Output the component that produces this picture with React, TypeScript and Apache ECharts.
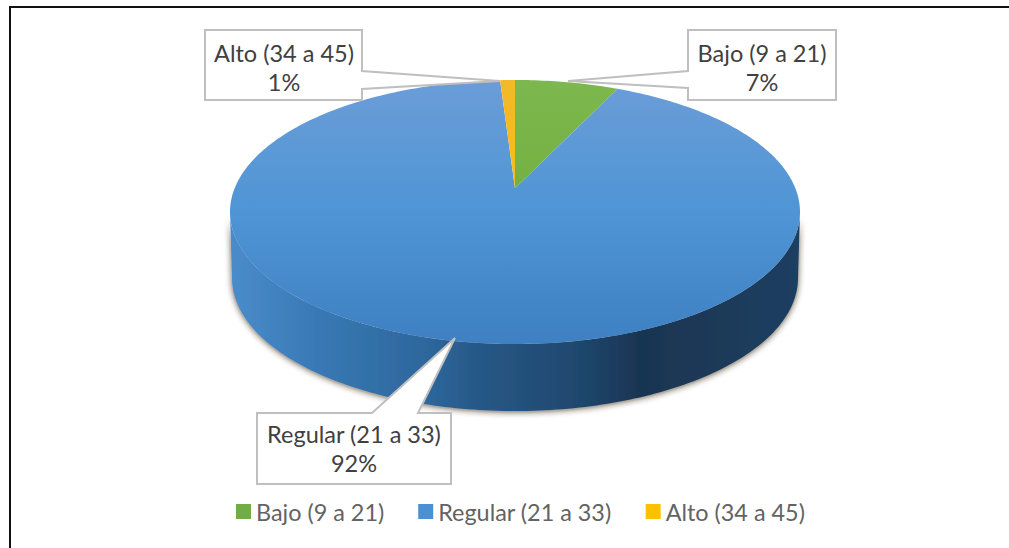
import React, { useEffect, useRef } from "react";
import * as echarts from "echarts";

const categories = ["Bajo (9 a 21)", "Regular (21 a 33)", "Alto (34 a 45)"];
const values = [7, 92, 1];
const sliceColors = ["#70AD47", "#4A90D4", "#FFC000"];

// pie geometry
const CX = 515, CY = 212, RX = 285, RY = 132;
const APEX = 0.18; // projective shift of the pie centre on the ellipse
const BOTTOM_CY = 278, BOTTOM_RY = 133, BOTTOM_RX = 283;
const total = values.reduce((a, b) => a + b, 0);

const pt = (deg: number) => {
  const th = (deg * Math.PI) / 180;
  const s = Math.sin(th), c = Math.cos(th);
  const den = 1 + APEX * c;
  return { u: (s * Math.sqrt(1 - APEX * APEX)) / den, v: (c + APEX) / den };
};
const topXY = (deg: number) => {
  const p = pt(deg);
  return [CX + RX * p.u, CY - RY * p.v];
};
const bottomXY = (deg: number) => {
  const p = pt(deg);
  return [CX + BOTTOM_RX * p.u, BOTTOM_CY - BOTTOM_RY * p.v];
};
const range = (from: number, to: number, f: (d: number) => number[]) => {
  const n = Math.max(2, Math.ceil((to - from) / 1));
  const out: number[][] = [];
  for (let i = 0; i <= n; i++) out.push(f(from + ((to - from) * i) / n));
  return out;
};

const sideStops = [
  { offset: 0, color: "#4A8CCB" },
  { offset: 0.16, color: "#3878B4" },
  { offset: 0.36, color: "#2C6599" },
  { offset: 0.42, color: "#285A8A" },
  { offset: 0.62, color: "#1F466C" },
  { offset: 0.72, color: "#193552" },
  { offset: 1, color: "#1E3F60" },
];
const topStops: Record<number, { offset: number; color: string }[]> = {
  0: [
    { offset: 0, color: "#7DB74F" },
    { offset: 1, color: "#69A82E" },
  ],
  1: [
    { offset: 0, color: "#6B9DD8" },
    { offset: 0.5, color: "#4F95D5" },
    { offset: 1, color: "#3E80C2" },
  ],
  2: [
    { offset: 0, color: "#F2B92A" },
    { offset: 1, color: "#FFC000" },
  ],
};

const makeRenderItem = (index: number) => () => {
  const before = values.slice(0, index).reduce((a, b) => a + b, 0);
  const start = (before / total) * 360;
  const end = ((before + values[index]) / total) * 360;
  const children: any[] = [];
  // lower half of the rim is the only visible wall
  const low = (Math.acos(-APEX) * 180) / Math.PI;
  const high = 360 - low;
  const a = Math.max(start, low), b = Math.min(end, high);
  if (b > a) {
    children.push({
      type: "polygon",
      shape: { points: [...range(a, b, topXY), ...range(a, b, bottomXY).reverse()] },
      style: {
        fill: new echarts.graphic.LinearGradient(CX - RX, 0, CX + RX, 0, sideStops, true),
        shadowBlur: 6,
        shadowColor: "rgba(50,35,20,0.75)",
        shadowOffsetY: 1,
      },
    });
  }
  children.push({
    type: "polygon",
    shape: { points: [[CX, CY - RY * APEX], ...range(start, end, topXY)] },
    style: {
      fill: new echarts.graphic.LinearGradient(0, CY - RY, 0, CY + RY, topStops[index], true),
    },
  });
  return { type: "group", children };
};

const calloutText = (i: number) => `${categories[i]}\n${values[i]}%`;

const callout = (points: number[][], i: number, cx: number, cy: number) => [
  {
    type: "polygon",
    z: 100,
    shape: { points },
    style: { fill: "#FFFFFF", stroke: "#BFBFBF", lineWidth: 2 },
  },
  {
    type: "text",
    z: 101,
    x: cx,
    y: cy,
    style: {
      text: calloutText(i),
      fill: "#404040",
      font: '23.5px Lato, "Open Sans", sans-serif',
      lineHeight: 29,
      align: "center",
      verticalAlign: "middle",
    },
  },
];

export default function App() {
  const ref = useRef<HTMLDivElement>(null);
  useEffect(() => {
    const chart = echarts.init(ref.current!, undefined, { renderer: "svg" });
    chart.setOption({
      animation: false,
      backgroundColor: "#FFFFFF",
      legend: {
        left: 236,
        top: 500,
        padding: 0,
        itemWidth: 15,
        itemHeight: 15,
        itemGap: 34,
        icon: "rect",
        data: categories,
        textStyle: { color: "#636363", fontSize: 23.4, fontFamily: 'Lato, "Open Sans", sans-serif' },
      },
      series: categories.map((name, i) => ({
        type: "custom",
        name,
        coordinateSystem: "none",
        data: [values[i]],
        itemStyle: { color: sliceColors[i] },
        renderItem: makeRenderItem(i),
        silent: true,
      })),
      graphic: [
        {
          type: "polyline",
          z: 90,
          shape: { points: [[1009, 7], [10, 7], [10, 548]] },
          style: { fill: "none", stroke: "#111111", lineWidth: 2 },
        },
        ...callout([[205, 30], [362, 30], [362, 71], [500, 81], [362, 89], [362, 100], [205, 100]], 2, 284, 67),
        ...callout([[688, 30], [836, 30], [836, 100], [688, 100], [688, 88], [568, 81], [688, 71]], 0, 762, 67),
        ...callout([[257, 413], [372, 413], [455, 338], [418, 413], [451, 413], [451, 484], [257, 484]], 1, 354, 448),
      ],
    });
    return () => chart.dispose();
  }, []);
  return <div ref={ref} style={{ position: "fixed", left: 0, top: 0, width: 1009, height: 548 }} />;
}
